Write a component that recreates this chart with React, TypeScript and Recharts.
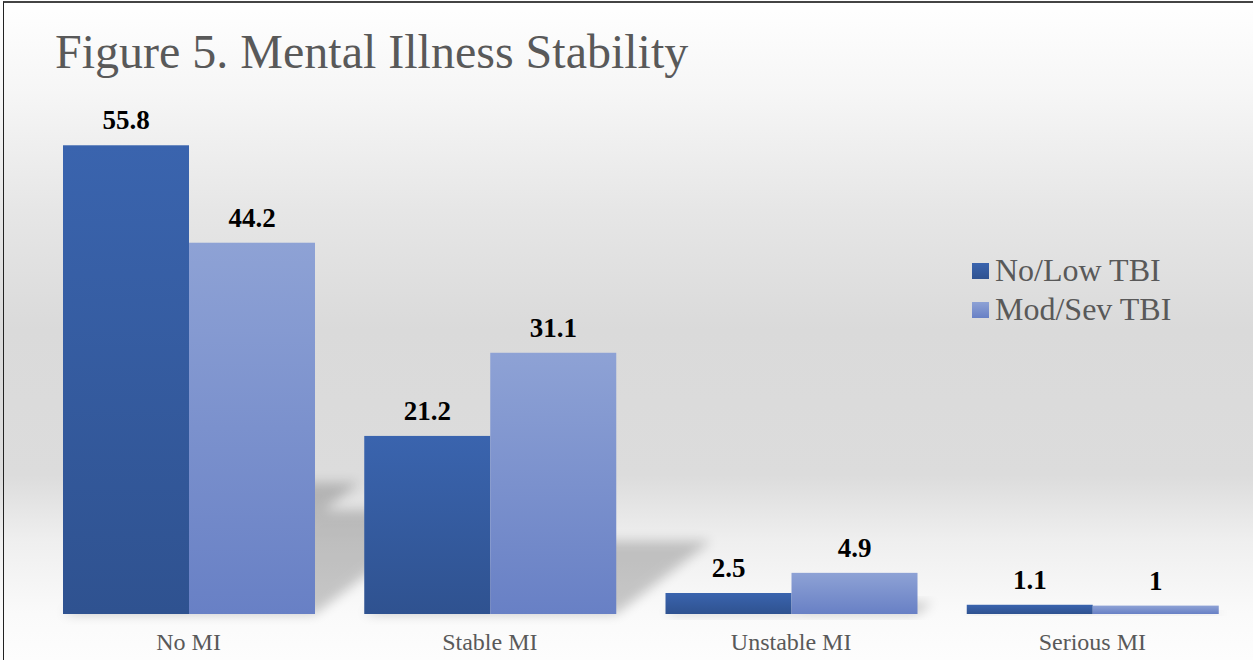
import { Bar, BarChart, LabelList, XAxis, YAxis } from "recharts";

const categories = ["No MI", "Stable MI", "Unstable MI", "Serious MI"];
const noLowTbi = [55.8, 21.2, 2.5, 1.1];
const modSevTbi = [44.2, 31.1, 4.9, 1];
const seriesNames = ["No/Low TBI", "Mod/Sev TBI"];

const data = categories.map((name, i) => ({
    name,
    low: noLowTbi[i],
    mod: modSevTbi[i],
}));

const SERIF = "'Liberation Serif', 'Times New Roman', serif";
const labelStyle = { fontFamily: SERIF, fontSize: 27, fontWeight: 700, fill: "#000" };

// perspective shadow cast up and to the right from the base of a bar
const shadowPoints = (x: number, w: number, base: number, h: number) => {
    const rise = h * 0.28;
    const dx = rise * 1.3;
    return `${x},${base} ${x + w},${base} ${x + w + dx},${base - rise} ${x + dx},${base - rise}`;
};

// dark bar draws the shadows of both bars in its group, so later groups cover them
const DarkBar = (props: any) => {
    const { x, y, width, height, value, payload } = props;
    const base = y + height;
    const perUnit = value ? height / value : 0;
    const modH = payload.mod * perUnit;
    return (
        <g>
            <g filter="url(#shadowBlur)" opacity={0.2}>
                <polygon points={shadowPoints(x, width, base, height)} fill="#000" />
                <polygon points={shadowPoints(x + width, width, base, modH)} fill="#000" />
            </g>
            <rect x={x} y={y} width={width} height={height} fill="url(#darkGrad)" />
        </g>
    );
};

const LightBar = (props: any) => {
    const { x, y, width, height } = props;
    return <rect x={x} y={y} width={width} height={height} fill="url(#lightGrad)" />;
};

const LegendBox = () => (
    <div
        style={{
            position: "absolute",
            left: 972,
            top: 251,
            fontFamily: SERIF,
            fontSize: 32,
            color: "#595959",
            whiteSpace: "nowrap",
        }}
    >
        {seriesNames.map((n, i) => (
            <div key={n} style={{ display: "flex", alignItems: "center", height: 39 }}>
                <span
                    style={{
                        width: 17,
                        height: 16,
                        marginRight: 6,
                        background: i === 0
                            ? "linear-gradient(#3a64ae, #2f5290)"
                            : "linear-gradient(#8ea2d5, #6880c5)",
                    }}
                />
                <span>{n}</span>
            </div>
        ))}
    </div>
);

export default function App() {
    return (
        <div
            style={{
                position: "absolute",
                left: 0,
                top: 0,
                width: 1253,
                height: 660,
                overflow: "hidden",
                background:
                    "linear-gradient(to bottom, #ffffff 0%, #f6f6f6 14%, #e6e6e6 32%, #dadada 50%, #dcdcdc 72%, #efefef 82%, #fafafa 93%, #fdfdfd 100%)",
            }}
        >
            <div
                style={{
                    position: "absolute",
                    left: 3,
                    top: 1,
                    right: -10,
                    bottom: -10,
                    borderLeft: "1px solid #222",
                    borderTop: "2px solid #444",
                }}
            />
            <div
                style={{
                    position: "absolute",
                    left: 55,
                    top: 28,
                    fontFamily: SERIF,
                    fontSize: 48,
                    lineHeight: 1,
                    color: "#595959",
                    whiteSpace: "nowrap",
                }}
            >
                Figure 5. Mental Illness Stability
            </div>
            <div style={{ position: "absolute", left: 0, top: 0 }}>
                <BarChart
                    width={1253}
                    height={660}
                    data={data}
                    margin={{ top: 110, right: 10, bottom: 16, left: 38 }}
                    barCategoryGap="8.3%"
                    barGap={0}
                >
                    <defs>
                        <linearGradient id="darkGrad" x1="0" y1="0" x2="0" y2="1">
                            <stop offset="0%" stopColor="#3a64ae" />
                            <stop offset="100%" stopColor="#2f5290" />
                        </linearGradient>
                        <linearGradient id="lightGrad" x1="0" y1="0" x2="0" y2="1">
                            <stop offset="0%" stopColor="#8ea2d5" />
                            <stop offset="100%" stopColor="#6880c5" />
                        </linearGradient>
                        <filter id="shadowBlur" x="-50%" y="-50%" width="200%" height="200%">
                            <feGaussianBlur stdDeviation="6" />
                        </filter>
                    </defs>
                    <XAxis
                        dataKey="name"
                        axisLine={false}
                        tickLine={false}
                        height={30}
                        tickMargin={13}
                        tick={{ fontFamily: SERIF, fontSize: 24, fill: "#595959" }}
                    />
                    <YAxis hide domain={[0, 60]} />
                    <Bar dataKey="low" name={seriesNames[0]} shape={DarkBar} isAnimationActive={false}>
                        <LabelList dataKey="low" position="top" offset={16} style={labelStyle} />
                    </Bar>
                    <Bar dataKey="mod" name={seriesNames[1]} shape={LightBar} isAnimationActive={false}>
                        <LabelList dataKey="mod" position="top" offset={16} style={labelStyle} />
                    </Bar>
                </BarChart>
            </div>
            <LegendBox />
        </div>
    );
}
